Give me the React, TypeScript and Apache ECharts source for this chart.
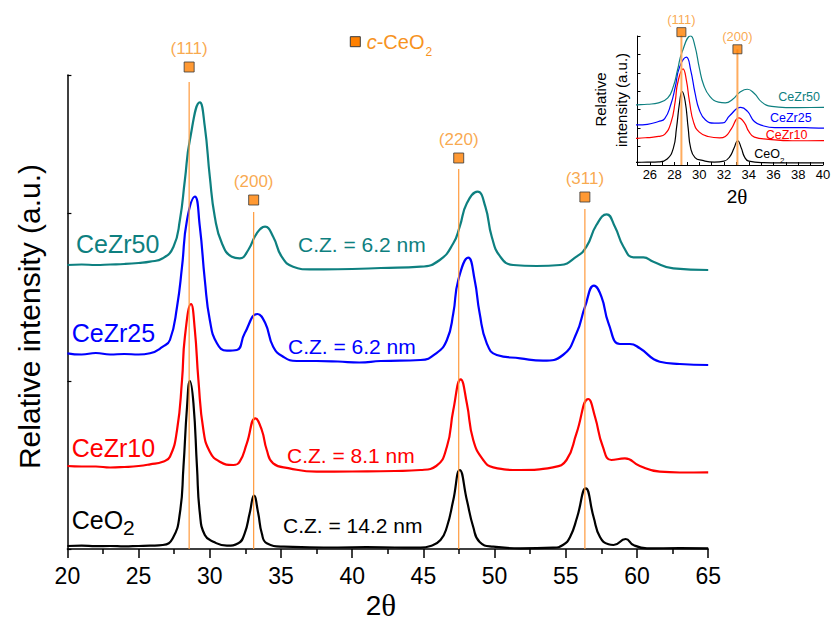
import React, { useEffect, useRef } from "react";
import * as echarts from "echarts";

// ---- Data (2θ, relative intensity; stacked as in the figure) ----
const ceO2Pattern: [number, number][] = [
  [20, 3], [21, 3.3], [22, 2.8], [23, 3], [24, 2.6], [25, 3], [25.8, 3.3], [26.7, 4], [27.4, 10.7],
  [27.9, 36], [28.15, 82], [28.4, 142], [28.6, 168], [28.85, 146], [29.1, 82], [29.3, 36], [29.65, 14],
  [30.25, 7.3], [31.2, 3.3], [32.0, 5.7], [32.45, 15.7], [32.8, 35.7], [33.1, 53.3], [33.4, 35.7],
  [33.65, 15.7], [34.0, 5.7], [35.2, 2.3], [37, 1.7], [39, 1.5], [41, 1.8], [43, 1.5], [44.8, 1.3],
  [45.5, 3], [46.2, 9], [46.65, 22], [47.1, 49], [47.55, 79], [48.05, 49], [48.5, 22], [48.95, 7],
  [49.9, 2.3], [51.8, 0.7], [54.1, 1.3], [54.8, 4], [55.3, 12], [55.8, 32], [56.4, 60.7], [56.95, 32],
  [57.4, 12], [58.0, 4.7], [58.35, 4], [59.2, 10], [59.75, 4], [60.7, 0.7], [63, 0.8], [65, 0.7],
];

const ceZr10Pattern: [number, number][] = [
  [20, 83], [21, 82.5], [22, 82.5], [23, 81.5], [24, 82], [25, 83], [25.8, 84.7], [26.7, 87.3],
  [27.2, 92.3], [27.7, 119], [28.05, 169], [28.25, 212], [28.68, 245], [28.95, 219], [29.2, 169],
  [29.55, 119], [30.0, 97.3], [30.7, 87.3], [31.65, 84], [32.1, 87.3], [32.6, 105.7], [33.2, 130.7],
  [33.65, 119], [34.0, 99], [34.45, 85.7], [35.6, 80.7], [37.5, 77.3], [40, 77.5], [43, 78], [44.8, 79],
  [45.9, 83], [46.65, 102.3], [47.1, 139], [47.62, 169.7], [48.05, 145.7], [48.5, 109], [49.2, 89],
  [49.9, 81.7], [51.8, 79], [54.1, 81.7], [55.05, 89], [55.75, 115.7], [56.58, 150], [57.05, 132.3],
  [57.6, 102.3], [58.2, 89], [59.15, 90.7], [60.2, 83], [61.6, 77.3], [63, 76.5], [65, 76.7],
];

const ceZr25Pattern: [number, number][] = [
  [20, 195.7], [21, 194.5], [22, 196], [23, 194.5], [24, 195], [25, 194.5], [25.8, 195.7], [26.7, 202.3],
  [27.2, 209], [27.7, 242.3], [28.05, 282.3], [28.4, 329], [28.95, 352.3], [29.3, 322.3], [29.65, 269],
  [30.0, 229], [30.5, 205.7], [31.2, 198.3], [31.9, 199], [32.45, 215.7], [33.35, 235], [33.9, 225.7],
  [34.45, 202.3], [35.15, 192.3], [36.1, 188], [37.5, 188], [39, 187.5], [40.5, 186.5], [42, 188],
  [44.8, 189], [45.9, 195.7], [46.65, 209], [47.1, 235.7], [47.45, 269], [48.15, 291.3], [48.6, 269],
  [48.95, 235.7], [49.45, 205.7], [50.15, 194], [51.8, 190.7], [53.4, 188.3], [54.8, 194], [55.75, 215.7],
  [56.35, 242.3], [56.98, 263.3], [57.5, 252.3], [58.0, 225.7], [58.8, 205], [59.5, 205], [60.2, 200.7],
  [61.6, 187.3], [63, 185], [65, 184],
];

const ceZr50Pattern: [number, number][] = [
  [20, 284], [21, 284.5], [22, 284], [23, 284.5], [24, 285], [25, 286], [25.8, 287.3], [26.7, 290.7],
  [27.45, 302.3], [27.9, 329], [28.25, 369], [28.6, 409], [29.3, 446.7], [29.65, 422.3], [30.0, 372.3],
  [30.35, 332.3], [30.85, 305.7], [31.55, 292.3], [32.1, 290.7], [32.7, 299], [33.3, 315.7], [33.88, 322.3],
  [34.45, 312.3], [35.05, 292.3], [35.85, 282.3], [37.0, 279.7], [38, 279.7], [40, 280], [42, 281],
  [44.8, 282.3], [46.15, 289], [47.1, 305.7], [47.55, 322.3], [48.05, 345.7], [48.8, 357.3], [49.35, 342.3],
  [49.8, 312.3], [50.4, 292.3], [51.3, 284], [52.95, 283], [54.6, 284], [55.75, 292.3], [56.45, 302.3],
  [57.15, 324], [57.87, 334.7], [58.45, 322.3], [59.05, 302.3], [59.75, 291.7], [60.45, 291.7],
  [61.15, 287.3], [62.55, 280.7], [65, 279],
];

const samplePatterns = [ceO2Pattern, ceZr10Pattern, ceZr25Pattern, ceZr50Pattern];
const sampleNames = ["CeO2", "CeZr10", "CeZr25", "CeZr50"];
const crystalSizes = ["14.2", "8.1", "6.2", "6.2"];
const insetShifts = [3.3, -20.7, -100.7, -145.6];

const hklLabels = ["(111)", "(200)", "(220)", "(311)"];
const hklPositions = [28.55, 33.08, 47.48, 56.34];
const hklLineTops = [467, 337, 380, 340];
const hklMarkerHeights = [482, 349, 391, 352];
const insetHklMarkerHeights = [310, 270];

const xMin = 20, xMax = 65, xInterval = 5;
const yMax = 474, yInterval = 168;
const insetXMin = 25, insetXMax = 40;
const insetYMax = 301, insetYInterval = 43;

// ---- Styles ----
const colors = ["#000000", "#ff0000", "#0000ff", "#0e8080"];
const orange = "#f7931e";
const SANS = "'Liberation Sans', Arial, sans-serif";
const SERIF = "'Liberation Serif', 'Times New Roman', serif";

function buildOption() {
  const series: any[] = [];

  samplePatterns.forEach((pat, i) => {
    series.push({
      type: "line", xAxisIndex: 0, yAxisIndex: 0, data: pat, symbol: "none",
      smooth: 0.5,
      lineStyle: { color: colors[i], width: 2.2 }, silent: true, z: 2,
    });
  });
  hklPositions.forEach((p, i) => {
    series.push({
      type: "line", xAxisIndex: 0, yAxisIndex: 0, data: [[p, 0], [p, hklLineTops[i]]],
      symbol: "none", lineStyle: { color: "#ff9a3c", width: 1.2 }, silent: true, z: 3,
    });
  });
  series.push({
    type: "scatter", xAxisIndex: 0, yAxisIndex: 0, clip: false,
    data: hklPositions.map((p, i) => [p, hklMarkerHeights[i]]),
    symbol: "rect", symbolSize: 10,
    itemStyle: { color: "#ff8000", borderColor: "#3a3a3a", borderWidth: 1 },
    label: {
      show: true, position: "top", distance: 5, color: orange, fontSize: 17, fontFamily: SANS,
      formatter: (p: any) => hklLabels[p.dataIndex],
    },
    silent: true, z: 5,
  });

  samplePatterns.forEach((pat, i) => {
    series.push({
      type: "line", xAxisIndex: 1, yAxisIndex: 1,
      data: pat.map(([x, y]) => [x, y + insetShifts[i]]), symbol: "none",
      smooth: 0.5,
      lineStyle: { color: colors[i], width: 1.2 }, silent: true, z: 2,
    });
  });
  insetHklMarkerHeights.forEach((h, i) => {
    series.push({
      type: "line", xAxisIndex: 1, yAxisIndex: 1, data: [[hklPositions[i], 0], [hklPositions[i], h]],
      symbol: "none", lineStyle: { color: "#ffac5e", width: 2 }, silent: true, z: 3,
    });
  });
  series.push({
    type: "scatter", xAxisIndex: 1, yAxisIndex: 1, clip: false,
    data: insetHklMarkerHeights.map((h, i) => [hklPositions[i], h]),
    symbol: "rect", symbolSize: 9,
    itemStyle: { color: "#ff8000", borderColor: "#3a3a3a", borderWidth: 1 },
    label: {
      show: true, position: "top", distance: 1, color: orange, fontSize: 13, fontFamily: SANS,
      formatter: (p: any) => hklLabels[p.dataIndex],
    },
    silent: true, z: 5,
  });

  const textEl = (x: number, y: number, text: string, fill: string, fontSize: number, extra: any = {}) => ({
    type: "text", x, y, silent: true, z: 10,
    style: { text, fill, fontSize, fontFamily: SANS, align: "left", verticalAlign: "middle", ...extra },
  });

  const mainLabelY = [520, 448.3, 333.3, 244];
  const mainLabelX = [71.7, 71.7, 71.7, 76];
  const czX = [283, 287, 288, 298];
  const czY = [525.7, 455, 346.7, 244];

  const graphic: any[] = [];
  sampleNames.forEach((name, i) => {
    if (name === "CeO2") {
      graphic.push(textEl(mainLabelX[i], mainLabelY[i], "CeO", colors[i], 25));
      graphic.push(textEl(mainLabelX[i] + 51.4, mainLabelY[i] + 7.5, "2", colors[i], 21));
    } else {
      graphic.push(textEl(mainLabelX[i], mainLabelY[i], name, colors[i], 25));
    }
    graphic.push(textEl(czX[i], czY[i], `C.Z. = ${crystalSizes[i]} nm`, colors[i], 21));
  });

  const inLX = [754.3, 765.7, 770, 778.3];
  const inLY = [154, 135, 117.7, 96.7];
  sampleNames.forEach((name, i) => {
    if (name === "CeO2") {
      graphic.push(textEl(inLX[i], inLY[i], "CeO", colors[i], 12.5));
      graphic.push(textEl(inLX[i] + 25.7, inLY[i] + 6, "2", colors[i], 8));
    } else {
      graphic.push(textEl(inLX[i], inLY[i], name, colors[i], 12.5));
    }
  });

  graphic.push({
    type: "rect", shape: { x: 350.3, y: 36.7, width: 10, height: 10 }, silent: true, z: 10,
    style: { fill: "#ff8000", stroke: "#3a3a3a", lineWidth: 1 },
  });
  graphic.push(textEl(366.7, 41.5, "c", orange, 20, { fontStyle: "italic" }));
  graphic.push(textEl(376.7, 41.5, "-CeO", orange, 20));
  graphic.push(textEl(425.5, 52, "2", orange, 12));

  graphic.push({
    type: "text", x: 29, y: 316.5, rotation: Math.PI / 2, silent: true,
    style: { text: "Relative intensity (a.u.)", fill: "#000", fontSize: 30, fontFamily: SANS, align: "center", verticalAlign: "middle" },
  });
  graphic.push({
    type: "text", x: 381, y: 605, silent: true,
    style: {
      text: "{a|2}{b|θ}", align: "center", verticalAlign: "middle",
      rich: { a: { fontSize: 28, fontFamily: SANS, fill: "#000" }, b: { fontSize: 31, fontFamily: SERIF, fill: "#000" } },
    },
  });
  graphic.push({
    type: "text", x: 600, y: 99.5, rotation: Math.PI / 2, silent: true,
    style: { text: "Relative", fill: "#000", fontSize: 15, fontFamily: SANS, align: "center", verticalAlign: "middle" },
  });
  graphic.push({
    type: "text", x: 621.5, y: 100, rotation: Math.PI / 2, silent: true,
    style: { text: "intensity (a.u.)", fill: "#000", fontSize: 15, fontFamily: SANS, align: "center", verticalAlign: "middle" },
  });
  graphic.push({
    type: "text", x: 737, y: 196.5, silent: true,
    style: {
      text: "{a|2}{b|θ}", align: "center", verticalAlign: "middle",
      rich: { a: { fontSize: 19, fontFamily: SANS, fill: "#000" }, b: { fontSize: 21, fontFamily: SERIF, fill: "#000" } },
    },
  });

  const axisLine = { show: true, onZero: false, lineStyle: { color: "#000", width: 1.5 } };

  return {
    animation: false,
    backgroundColor: "#ffffff",
    grid: [
      { left: 67.4, top: 75, width: 640.8, height: 474, containLabel: false, outerBoundsMode: "none" },
      { left: 637.5, top: 36, width: 185.5, height: 129, containLabel: false, outerBoundsMode: "none" },
    ],
    xAxis: [
      {
        type: "value", gridIndex: 0, min: xMin, max: xMax, interval: xInterval,
        axisLine,
        axisTick: { show: true, inside: false, length: 9, lineStyle: { color: "#000", width: 1.5 } },
        minorTick: { show: true, splitNumber: 2, length: 5, lineStyle: { color: "#000", width: 1.5 } },
        axisLabel: { show: true, color: "#000", fontSize: 23, fontFamily: SANS, margin: 15 },
        splitLine: { show: false },
      },
      {
        type: "value", gridIndex: 1, min: insetXMin, max: insetXMax, interval: 1,
        axisLine: { show: true, onZero: false, lineStyle: { color: "#000", width: 1 } },
        axisTick: { show: true, inside: true, length: 3, lineStyle: { color: "#000", width: 1 } },
        axisLabel: {
          show: true, interval: 0, color: "#000", fontSize: 13, fontFamily: SANS, margin: 3,
          formatter: (v: number) => (v % 2 === 0 ? String(v) : ""),
        },
        splitLine: { show: false },
      },
    ],
    yAxis: [
      {
        type: "value", gridIndex: 0, min: 0, max: yMax, interval: yInterval,
        axisLine,
        axisTick: { show: true, inside: true, length: 4, lineStyle: { color: "#000", width: 1.2 } },
        axisLabel: { show: false },
        splitLine: { show: false },
      },
      {
        type: "value", gridIndex: 1, min: 0, max: insetYMax, interval: insetYInterval,
        axisLine: { show: true, onZero: false, lineStyle: { color: "#000", width: 1 } },
        axisTick: { show: true, inside: true, length: 3, lineStyle: { color: "#000", width: 1 } },
        axisLabel: { show: false },
        splitLine: { show: false },
      },
    ],
    series,
    graphic,
  };
}

export default function App() {
  const ref = useRef<HTMLDivElement>(null);
  useEffect(() => {
    if (!ref.current) return;
    const chart = echarts.init(ref.current, null, { renderer: "svg" });
    chart.setOption(buildOption() as any);
    return () => chart.dispose();
  }, []);
  return (
    <div
      ref={ref}
      style={{ position: "fixed", left: 0, top: 0, width: 835, height: 632, background: "#fff" }}
    />
  );
}
